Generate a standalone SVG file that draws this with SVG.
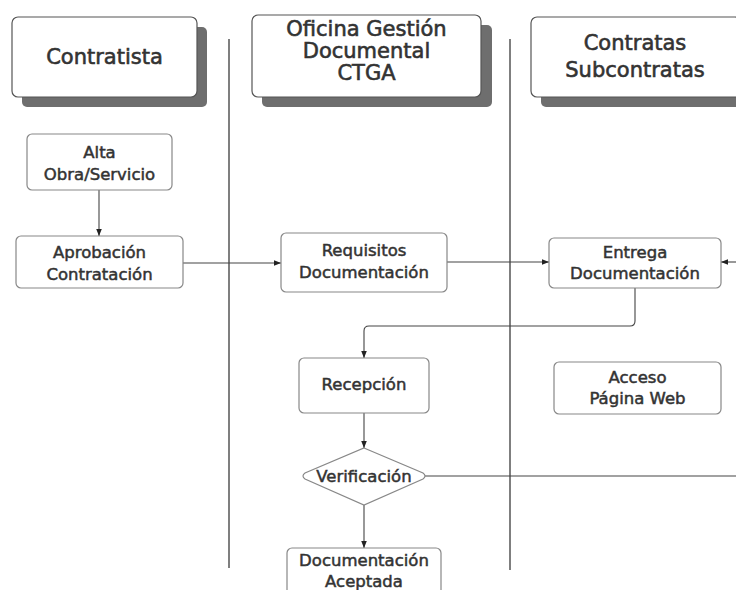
<svg xmlns="http://www.w3.org/2000/svg" width="736" height="590" viewBox="0 0 736 590">
<defs>
<style>
.hdr{fill:#fff;stroke:#555;stroke-width:1.2}
.shd{fill:#6e6e6e}
.box{fill:#fff;stroke:#888;stroke-width:1.2}
.ht{font-family:"DejaVu Sans",sans-serif;font-size:21px;fill:#333;stroke:#333;stroke-width:0.6;text-anchor:middle}
.nt{font-family:"DejaVu Sans",sans-serif;font-size:16.5px;fill:#333;stroke:#333;stroke-width:0.5;text-anchor:middle}
.ln{fill:none;stroke:#444;stroke-width:1.1}
.lane{stroke:#555;stroke-width:1.5}
</style>
<marker id="ar" viewBox="0 0 10 10" refX="10" refY="5" markerWidth="7" markerHeight="7" orient="auto" markerUnits="userSpaceOnUse">
<path d="M0,1 L10,5 L0,9 z" fill="#222"/>
</marker>
</defs>
<rect width="736" height="590" fill="#fff"/>
<g id="lanes">
<line class="lane" x1="229" y1="39" x2="229" y2="568"/>
<line class="lane" x1="510" y1="39" x2="510" y2="570"/>
</g>
<g id="h-contratista">
<rect class="shd" x="22" y="27" width="185" height="80" rx="5"/>
<rect class="hdr" x="12" y="17" width="185" height="80" rx="6"/>
<text class="ht" x="104.5" y="64">Contratista</text>
</g>
<g id="h-oficina">
<rect class="shd" x="262" y="25" width="230" height="82" rx="5"/>
<rect class="hdr" x="252" y="15" width="229" height="82" rx="6"/>
<text class="ht" x="366.5" y="36">Oficina Gestión</text>
<text class="ht" x="366.5" y="58">Documental</text>
<text class="ht" x="366.5" y="80">CTGA</text>
</g>
<g id="h-contratas">
<rect class="shd" x="541" y="27" width="210" height="80" rx="5"/>
<rect class="hdr" x="531" y="17" width="210" height="80" rx="6"/>
<text class="ht" x="635" y="50">Contratas</text>
<text class="ht" x="635" y="77">Subcontratas</text>
</g>
<g id="connectors">
<line class="ln" x1="99" y1="190" x2="99" y2="236" marker-end="url(#ar)"/>
<line class="ln" x1="183" y1="263" x2="281" y2="263" marker-end="url(#ar)"/>
<line class="ln" x1="447" y1="262" x2="549" y2="262" marker-end="url(#ar)"/>
<line class="ln" x1="736" y1="262" x2="721" y2="262" marker-end="url(#ar)"/>
<path class="ln" d="M635,288 V321 Q635,326 630,326 H369 Q364,326 364,331 V358" marker-end="url(#ar)"/>
<line class="ln" x1="364" y1="413" x2="364" y2="448" marker-end="url(#ar)"/>
<line class="ln" x1="425" y1="476" x2="736" y2="476"/>
<line class="ln" x1="364" y1="505" x2="364" y2="548" marker-end="url(#ar)"/>
</g>
<g id="n-alta">
<rect class="box" x="27" y="134" width="145" height="56" rx="5"/>
<text class="nt" x="99.5" y="158">Alta</text>
<text class="nt" x="99.5" y="180">Obra/Servicio</text>
</g>
<g id="n-aprobacion">
<rect class="box" x="16" y="236" width="167" height="52" rx="5"/>
<text class="nt" x="99.5" y="258">Aprobación</text>
<text class="nt" x="99.5" y="280">Contratación</text>
</g>
<g id="n-requisitos">
<rect class="box" x="281" y="233" width="166" height="59" rx="5"/>
<text class="nt" x="364" y="256">Requisitos</text>
<text class="nt" x="364" y="278">Documentación</text>
</g>
<g id="n-entrega">
<rect class="box" x="549" y="238" width="172" height="50" rx="5"/>
<text class="nt" x="635" y="258">Entrega</text>
<text class="nt" x="635" y="279">Documentación</text>
</g>
<g id="n-recepcion">
<rect class="box" x="299" y="358" width="130" height="55" rx="5"/>
<text class="nt" x="364" y="390">Recepción</text>
</g>
<g id="n-acceso">
<rect class="box" x="554" y="362" width="167" height="52" rx="5"/>
<text class="nt" x="637.5" y="383">Acceso</text>
<text class="nt" x="637.5" y="404">Página Web</text>
</g>
<g id="n-verificacion">
<path class="box" d="M364,448 L423,473 Q427,476 423,479 L364,505 L305,479 Q301,476 305,473 Z"/>
<text class="nt" x="364" y="482">Verificación</text>
</g>
<g id="n-aceptada">
<rect class="box" x="287" y="548" width="154" height="60" rx="5"/>
<text class="nt" x="364" y="566">Documentación</text>
<text class="nt" x="364" y="587">Aceptada</text>
</g>
</svg>
